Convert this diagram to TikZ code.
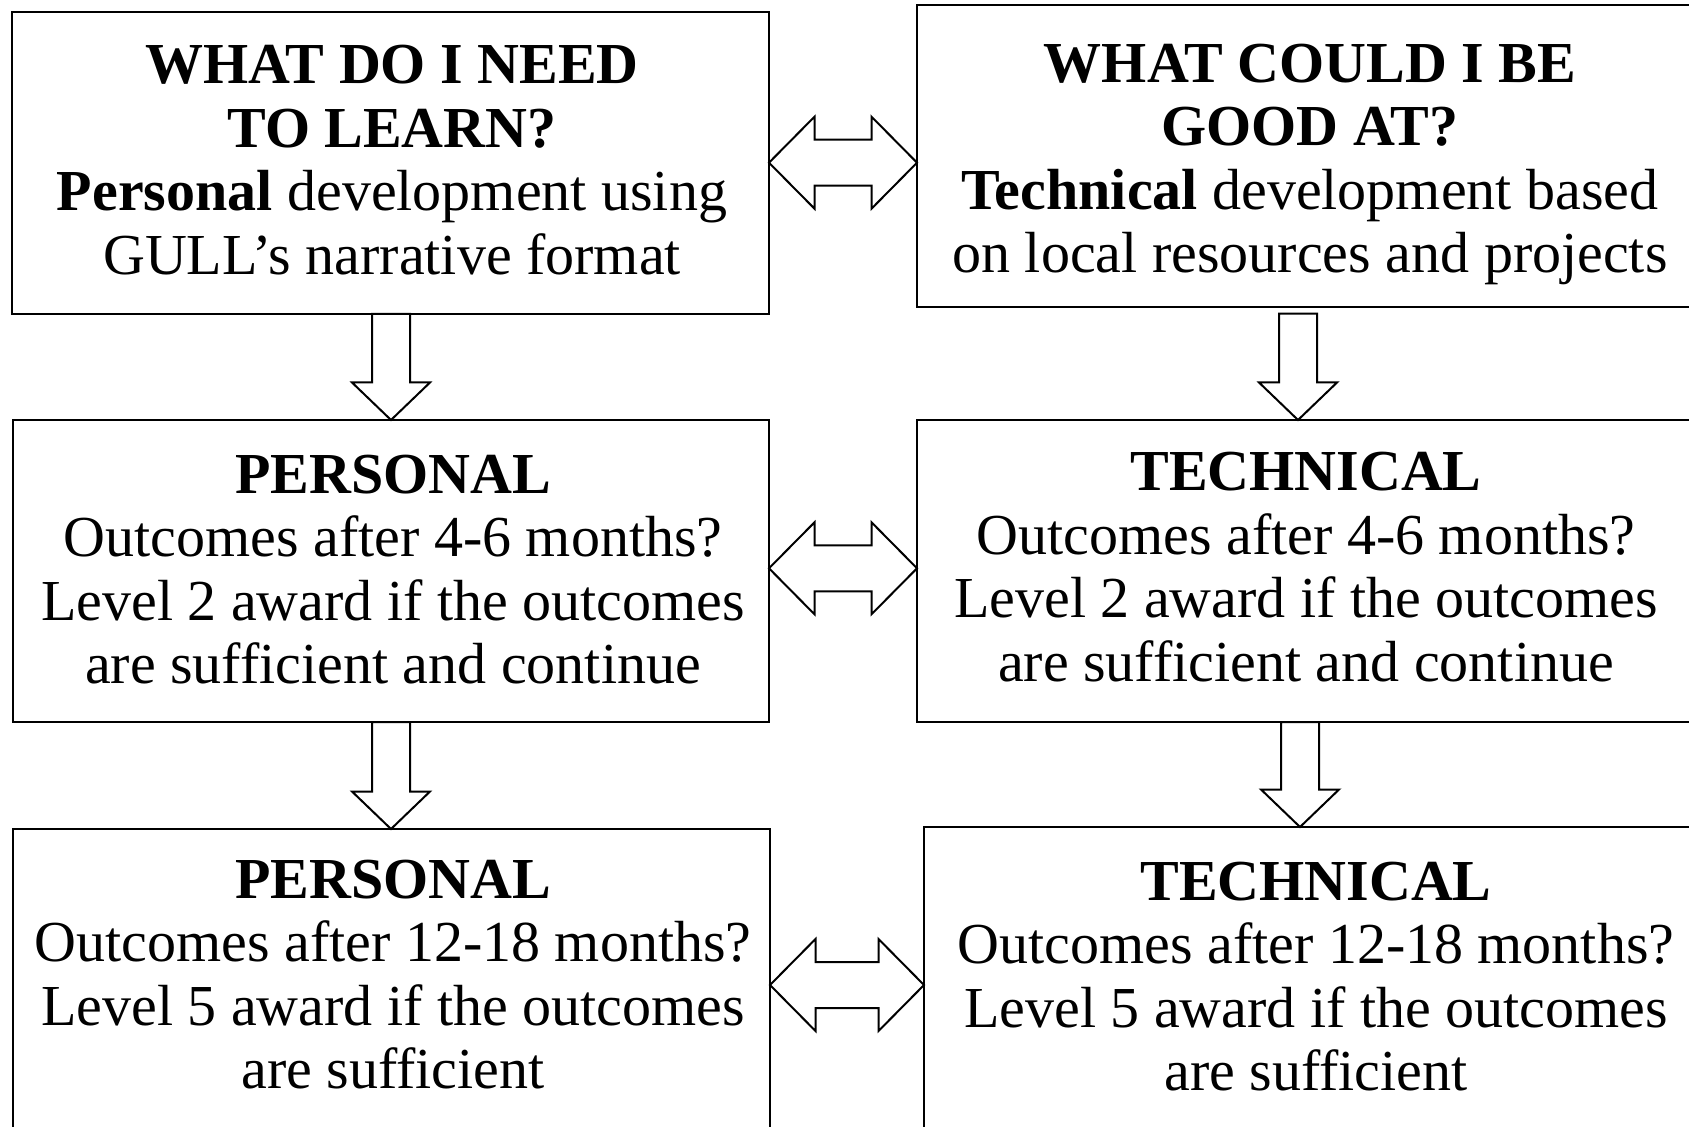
\documentclass[tikz,border=0pt]{standalone}
\usepackage{fontspec}
\setmainfont{Liberation Serif}
\usetikzlibrary{calc,fit}
\tikzset{
  box/.style={draw, line width=1.1pt, inner sep=0pt, outer sep=0pt},
  txt/.style={align=center, inner sep=0pt, outer sep=0pt, anchor=north,
              font=\fontsize{29}{31.75}\selectfont},
  arr/.style={draw, line width=1pt, fill=white, line join=miter}
}
% #1 from node, #2 to node, #3 x (px), #4 gap below upper box
\newcommand\mkdownarrow[4]{%
  \draw[arr] let \p1=(#1.south), \p2=(#2.north), \p3=(#3,0) in
    ({\x3-9.5pt},{\y1-#4}) -- ({\x3+9.5pt},{\y1-#4}) --
    ({\x3+9.5pt},{\y2+18.75pt}) -- ({\x3+19.5pt},{\y2+18.75pt}) --
    (\x3,\y2) -- ({\x3-19.5pt},{\y2+18.75pt}) --
    ({\x3-9.5pt},{\y2+18.75pt}) -- cycle;}
% #1 left node, #2 right node, #3 y (px)
\newcommand\mkdoublearrow[3]{%
  \draw[arr] let \p1=(#1.east), \p2=(#2.west), \p3=(0,#3) in
    (\x1,\y3) -- ({\x1+22.75pt},{\y3+23pt}) -- ({\x1+22.75pt},{\y3+11.5pt}) --
    ({\x2-22.75pt},{\y3+11.5pt}) -- ({\x2-22.75pt},{\y3+23pt}) --
    (\x2,\y3) -- ({\x2-22.75pt},{\y3-23pt}) -- ({\x2-22.75pt},{\y3-11.5pt}) --
    ({\x1+22.75pt},{\y3-11.5pt}) -- ({\x1+22.75pt},{\y3-23pt}) -- cycle;}
\begin{document}
\begin{tikzpicture}[x=0.5pt,y=-0.5pt]
\useasboundingbox (0,0) rectangle (1689,1127);
\clip (0,0) rectangle (1689,1127);
\fill[white] (0,0) rectangle (1689,1127);
% boxes
\node[box, fit={(12,12) (769,314)}] (B1) {};
\node[box, fit={(917,5) (1703,307)}] (B2) {};
\node[box, fit={(13,420) (769,722)}] (B3) {};
\node[box, fit={(917,420) (1696,722)}] (B4) {};
\node[box, fit={(13,829) (770,1150)}] (B5) {};
\node[box, fit={(924,827) (1710,1150)}] (B6) {};
% texts
\node[txt] (T1) at ([yshift=24pt]392,84) {\rule{0pt}{24pt}\textbf{WHAT DO I NEED}\\\textbf{TO LEARN?}\\\textbf{Personal} development using\\GULL’s narrative format};
\node[txt] (T2) at ([yshift=24pt]1310,82.5) {\rule{0pt}{24pt}\textbf{WHAT COULD I BE}\\\textbf{GOOD AT?}\\\textbf{Technical} development based\\on local resources and projects};
\node[txt] (T3) at ([yshift=24pt]393,493) {\rule{0pt}{24pt}\textbf{PERSONAL}\\Outcomes after 4-6 months?\\Level 2 award if the outcomes\\are sufficient and continue};
\node[txt] (T4) at ([yshift=24pt]1306,490.5) {\rule{0pt}{24pt}\textbf{TECHNICAL}\\Outcomes after 4-6 months?\\Level 2 award if the outcomes\\are sufficient and continue};
\node[txt] (T5) at ([yshift=24pt]393,898.3) {\rule{0pt}{24pt}\textbf{PERSONAL}\\Outcomes after 12-18 months?\\Level 5 award if the outcomes\\are sufficient};
\node[txt] (T6) at ([yshift=24pt]1316,900) {\rule{0pt}{24pt}\textbf{TECHNICAL}\\Outcomes after 12-18 months?\\Level 5 award if the outcomes\\are sufficient};
% connectors
\mkdownarrow{B1}{B3}{391}{0pt}
\mkdownarrow{B3}{B5}{391}{0pt}
\mkdownarrow{B2}{B4}{1298}{3.3pt}
\mkdownarrow{B4}{B6}{1300}{0pt}
\mkdoublearrow{B1}{B2}{162.7}
\mkdoublearrow{B3}{B4}{568.3}
\mkdoublearrow{B5}{B6}{985}
\end{tikzpicture}
\end{document}
